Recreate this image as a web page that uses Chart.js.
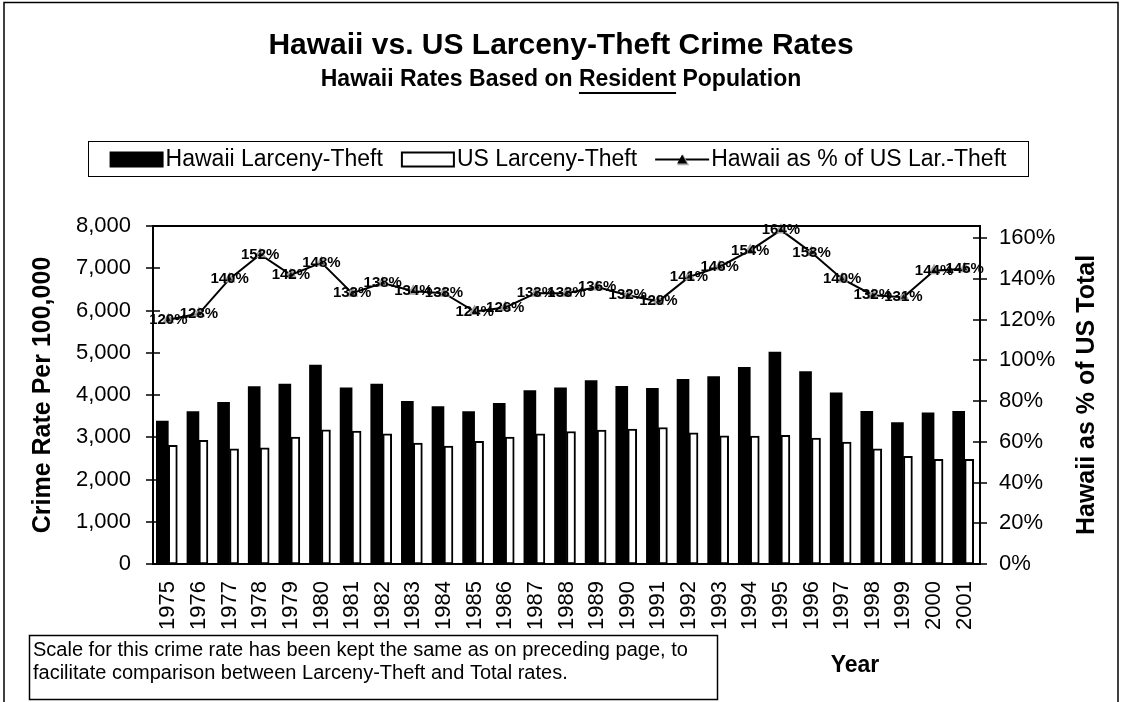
<!DOCTYPE html>
<html>
<head>
<meta charset="utf-8">
<title>Hawaii vs. US Larceny-Theft Crime Rates</title>
<script src="https://cdn.jsdelivr.net/npm/chart.js@4.4.1/dist/chart.umd.min.js"></script>
<style>
  body { margin: 0; background: #fff; }
  #wrap { width: 1122px; height: 702px; }
</style>
</head>
<body>
<div id="wrap"><canvas id="larcenyChart" width="1122" height="702"></canvas></div>
<script>
const years = ["1975", "1976", "1977", "1978", "1979", "1980", "1981", "1982", "1983", "1984",
    "1985", "1986", "1987", "1988", "1989", "1990", "1991", "1992", "1993", "1994",
    "1995", "1996", "1997", "1998", "1999", "2000", "2001"];

// rates per 100,000
const hawaiiRate = [3380, 3608, 3828, 4198, 4261, 4709, 4167, 4261, 3852, 3726,
    3608, 3805, 4104, 4167, 4340, 4206, 4159, 4371, 4434, 4654,
    5016, 4552, 4049, 3616, 3349, 3577, 3616];
const usRate = [2807, 2925, 2728, 2752, 3003, 3176, 3145, 3082, 2862, 2790,
    2901, 3003, 3082, 3137, 3168, 3192, 3231, 3106, 3035, 3027,
    3043, 2979, 2885, 2728, 2547, 2476, 2476];

// Hawaii as % of US
const hawaiiPctOfUS = [120, 123, 140, 152, 142, 148, 133, 138, 134, 133,
    124, 126, 133, 133, 136, 132, 129, 141, 146, 154,
    164, 153, 140, 132, 131, 144, 145];

const rateTicks = [0, 1000, 2000, 3000, 4000, 5000, 6000, 7000, 8000];
const pctTicks = [0, 20, 40, 60, 80, 100, 120, 140, 160];

const seriesNames = ["Hawaii Larceny-Theft", "US Larceny-Theft", "Hawaii as % of US Lar.-Theft"];
const noteLines = [
    "Scale for this crime rate has been kept the same as on preceding page, to",
    "facilitate comparison between Larceny-Theft and Total rates."
];

const FONT = "'Liberation Sans', Arial, sans-serif";
Chart.defaults.font.family = FONT;
Chart.defaults.color = "#000";

function triangle(ctx, x, y, r) {
    ctx.beginPath();
    ctx.moveTo(x, y - r);
    ctx.lineTo(x + r, y + r * 0.8);
    ctx.lineTo(x - r, y + r * 0.8);
    ctx.closePath();
}

function drawLegend(ctx) {
    const box = { x: 88, y: 141, w: 940, h: 35 };
    ctx.save();
    ctx.fillStyle = "#fff";
    ctx.fillRect(box.x, box.y, box.w, box.h);
    ctx.lineWidth = 1;
    ctx.strokeStyle = "#000";
    ctx.strokeRect(box.x + 0.5, box.y + 0.5, box.w, box.h);

    ctx.font = "23px " + FONT;
    ctx.textBaseline = "middle";
    const cy = box.y + box.h / 2 + 1;
    const sw = 54, gap = 2, sep = 18;
    const widths = seriesNames.map(t => ctx.measureText(t).width);
    const total = widths.reduce((a, b) => a + b, 0) + 3 * (sw + gap) + 2 * sep;
    let x = box.x + (box.w - total) / 2;

    // black bar swatch
    ctx.fillStyle = "#000";
    ctx.fillRect(x, cy - 8, sw, 16);
    x += sw + gap;
    ctx.fillText(seriesNames[0], x, cy);
    x += widths[0] + sep;

    // white bar swatch
    ctx.lineWidth = 2;
    ctx.strokeRect(x + 1, cy - 7, sw - 2, 14);
    x += sw + gap;
    ctx.fillText(seriesNames[1], x, cy);
    x += widths[1] + sep;

    // line swatch with marker
    ctx.beginPath();
    ctx.moveTo(x, cy);
    ctx.lineTo(x + sw, cy);
    ctx.stroke();
    ctx.fillStyle = "#aaa";
    triangle(ctx, x + sw / 2 + 1, cy + 1, 6);
    ctx.fill();
    ctx.fillStyle = "#000";
    triangle(ctx, x + sw / 2, cy, 5);
    ctx.fill();
    x += sw + gap;
    ctx.fillText(seriesNames[2], x, cy);
    ctx.restore();
}

const chartDecor = {
    id: "chartDecor",
    beforeDraw(chart) {
        const ctx = chart.ctx;
        ctx.save();
        ctx.fillStyle = "#fff";
        ctx.fillRect(0, 0, chart.width, chart.height);
        ctx.restore();
    },
    afterDraw(chart) {
        const ctx = chart.ctx;
        const area = chart.chartArea;
        ctx.save();

        // outer frame
        ctx.strokeStyle = "#000";
        ctx.lineWidth = 1.5;
        ctx.strokeRect(4, 2.5, 1114, 740);

        // titles
        ctx.fillStyle = "#000";
        ctx.textAlign = "center";
        ctx.textBaseline = "middle";
        ctx.font = "bold 30px " + FONT;
        ctx.fillText("Hawaii vs. US Larceny-Theft Crime Rates", 561, 46);

        ctx.font = "bold 23px " + FONT;
        const parts = ["Hawaii Rates Based on ", "Resident", " Population"];
        const pw = parts.map(p => ctx.measureText(p).width);
        let sx = 561 - (pw[0] + pw[1] + pw[2]) / 2;
        ctx.textAlign = "left";
        parts.forEach((p, i) => {
            ctx.fillText(p, sx, 80);
            if (i === 1) {
                ctx.fillRect(sx, 92, pw[i], 2);
            }
            sx += pw[i];
        });

        drawLegend(ctx);

        // plot area border
        ctx.lineWidth = 2;
        ctx.strokeStyle = "#000";
        ctx.strokeRect(area.left, area.top, area.right - area.left, area.bottom - area.top);

        // tick marks crossing both value axes
        ctx.beginPath();
        ["y", "y1"].forEach(id => {
            const sc = chart.scales[id];
            const ax = id === "y" ? area.left : area.right;
            sc.ticks.forEach((t, i) => {
                const y = Math.round(sc.getPixelForTick(i));
                ctx.moveTo(ax - 7, y);
                ctx.lineTo(ax + 7, y);
            });
        });
        ctx.lineWidth = 1.5;
        ctx.stroke();

        // axis titles
        ctx.font = "bold 25px " + FONT;
        ctx.textAlign = "center";
        ctx.textBaseline = "middle";
        const midY = (area.top + area.bottom) / 2;
        [["Crime Rate Per 100,000", 43], ["Hawaii as % of US Total", 1087]].forEach(([t, x]) => {
            ctx.save();
            ctx.translate(x, midY);
            ctx.rotate(-Math.PI / 2);
            ctx.fillText(t, 0, 0);
            ctx.restore();
        });
        ctx.font = "bold 23px " + FONT;
        ctx.fillText("Year", 855, 666);

        // note box
        ctx.fillStyle = "#fff";
        ctx.fillRect(29, 635, 688, 65);
        ctx.lineWidth = 1.5;
        ctx.strokeRect(29.5, 635.5, 688, 64);
        ctx.fillStyle = "#000";
        ctx.font = "20px " + FONT;
        ctx.textAlign = "left";
        ctx.fillText(noteLines[0], 33, 650);
        ctx.fillText(noteLines[1], 33, 673);

        ctx.restore();
    }
};

// percentage labels sitting on the line markers
const pctLabels = {
    id: "pctLabels",
    afterDatasetsDraw(chart) {
        const meta = chart.getDatasetMeta(2);
        const ctx = chart.ctx;
        ctx.save();
        ctx.font = "bold 15px " + FONT;
        ctx.textAlign = "center";
        ctx.textBaseline = "middle";
        ctx.fillStyle = "#000";
        meta.data.forEach((pt, i) => {
            ctx.fillText(hawaiiPctOfUS[i] + "%", pt.x, pt.y);
        });
        ctx.restore();
    }
};

const tickFont = { family: FONT, size: 22 };

new Chart(document.getElementById("larcenyChart").getContext("2d"), {
    type: "bar",
    data: {
        labels: years,
        datasets: [
            {
                label: seriesNames[0],
                data: hawaiiRate,
                backgroundColor: "#000",
                borderColor: "#000",
                borderWidth: 0,
                barThickness: 12,
                yAxisID: "y",
                order: 1
            },
            {
                label: seriesNames[1],
                data: usRate,
                backgroundColor: "#fff",
                borderColor: "#000",
                borderWidth: 2,
                borderSkipped: false,
                barThickness: 9,
                yAxisID: "y",
                order: 1
            },
            {
                type: "line",
                label: seriesNames[2],
                data: hawaiiPctOfUS,
                borderColor: "#000",
                borderWidth: 2,
                tension: 0,
                pointStyle: "triangle",
                pointRadius: 5,
                pointBackgroundColor: "#111",
                pointBorderColor: "#a0a0a0",
                pointBorderWidth: 2,
                yAxisID: "y1",
                clip: false,
                order: 0
            }
        ]
    },
    options: {
        responsive: false,
        animation: false,
        events: [],
        layout: { padding: { top: 226, left: 0, right: 0, bottom: 0 } },
        scales: {
            x: {
                offset: true,
                grid: { display: false, drawTicks: false },
                border: { display: false },
                ticks: {
                    font: { family: FONT, size: 22 },
                    color: "#000",
                    minRotation: 90,
                    maxRotation: 90,
                    autoSkip: false,
                    padding: 17
                },
                afterFit: (s) => { s.height = 138; }
            },
            y: {
                position: "left",
                min: 0,
                max: 8000,
                afterBuildTicks: (s) => { s.ticks = rateTicks.map(v => ({ value: v })); },
                grid: { display: false, drawTicks: false },
                border: { display: false },
                ticks: {
                    font: tickFont,
                    color: "#000",
                    padding: 22,
                    callback: (v) => v.toLocaleString("en-US")
                },
                afterFit: (s) => { s.width = 153; }
            },
            y1: {
                position: "right",
                min: 0,
                max: 166,
                afterBuildTicks: (s) => { s.ticks = pctTicks.map(v => ({ value: v })); },
                grid: { display: false, drawTicks: false },
                border: { display: false },
                ticks: {
                    font: tickFont,
                    color: "#000",
                    padding: 19,
                    callback: (v) => v + "%"
                },
                afterFit: (s) => { s.width = 142; }
            }
        },
        plugins: {
            legend: { display: false },
            tooltip: { enabled: false },
            title: { display: false }
        }
    },
    plugins: [chartDecor, pctLabels]
});
</script>
</body>
</html>
